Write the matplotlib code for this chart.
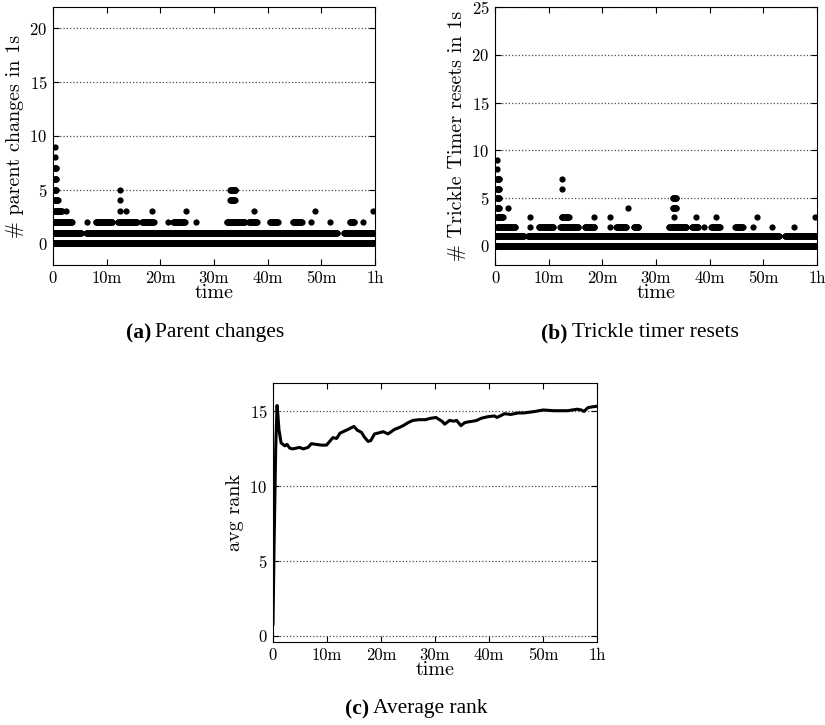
import numpy as np
import matplotlib
matplotlib.use('Agg')
from matplotlib import pyplot as plt

plt.rcParams['font.family'] = ['cmr10', 'DejaVu Serif']
plt.rcParams['axes.formatter.use_mathtext'] = True

# time axis (seconds) and its labels
time_ticks = [0, 600, 1200, 1800, 2400, 3000, 3600]
time_labels = ['0', '10m', '20m', '30m', '40m', '50m', '1h']

# per-second counts, stored as runs (start min, end min) for each count level
parent_levels = [0, 1, 2, 3, 4, 5, 6, 7, 8, 9]
parent_runs = [
    [(0.0, 60.0)],
    [(0.2, 5.3), (6.2, 53.0), (54.2, 60.0)],
    [(0.2, 3.6), (6.3, 6.3), (8.0, 11.0), (12.1, 15.6), (16.6, 18.8), (21.4, 21.4),
     (22.4, 24.6), (26.6, 26.6), (32.4, 35.8), (36.5, 38.0), (40.4, 41.9),
     (44.7, 46.4), (48.0, 48.0), (51.6, 51.6), (55.3, 56.2), (57.7, 57.7)],
    [(0.3, 1.7), (2.4, 2.4), (12.4, 12.4), (13.7, 13.7), (18.5, 18.5), (24.8, 24.8),
     (37.4, 37.4), (48.8, 48.8), (59.7, 59.7)],
    [(0.3, 0.9), (12.4, 12.4), (33.0, 33.9)],
    [(0.3, 0.7), (12.4, 12.4), (33.0, 34.0)],
    [(0.3, 0.7)],
    [(0.3, 0.7)],
    [(0.3, 0.3)],
    [(0.3, 0.3)],
]

trickle_levels = [0, 1, 2, 3, 4, 5, 6, 7, 8, 9]
trickle_runs = [
    [(0.0, 60.0)],
    [(0.2, 5.4), (6.1, 53.0), (54.0, 60.0)],
    [(0.3, 3.8), (6.5, 6.5), (8.2, 10.9), (12.2, 15.6), (16.7, 18.6), (21.5, 21.5),
     (22.6, 24.5), (25.9, 26.8), (32.4, 35.7), (36.7, 37.9), (39.0, 39.0),
     (40.3, 41.9), (44.8, 46.2), (48.0, 48.0), (51.7, 51.7), (55.7, 55.7)],
    [(0.3, 1.5), (6.5, 6.5), (12.4, 13.8), (18.5, 18.5), (21.5, 21.5), (33.4, 33.4),
     (37.4, 37.4), (41.1, 41.1), (48.8, 48.8), (59.6, 59.6)],
    [(0.3, 0.8), (2.4, 2.4), (24.8, 24.8), (33.1, 33.8)],
    [(0.3, 0.8), (33.1, 33.8)],
    [(0.3, 0.8), (12.5, 12.5)],
    [(0.3, 0.8), (12.5, 12.5)],
    [(0.4, 0.4)],
    [(0.4, 0.4)],
]

# average rank over the run
rank_minutes = [0.0, 0.2, 0.5, 0.75, 0.9, 1.1, 1.5, 2.2, 2.6, 3.1, 3.6, 4.3, 4.9, 5.6,
                6.5, 7.1, 8.0, 9.0, 9.9, 10.5, 11.1, 11.8, 12.4, 13.3, 13.9, 15.0,
                15.6, 16.4, 16.9, 17.6, 18.1, 18.8, 19.4, 20.4, 21.3, 22.5, 23.2,
                24.1, 25.0, 25.9, 27.0, 28.2, 29.3, 30.2, 30.6, 31.3, 31.8, 32.7,
                33.5, 34.0, 34.8, 35.5, 36.1, 37.0, 37.7, 38.6, 39.8, 41.0, 41.5,
                42.9, 44.0, 45.4, 46.5, 47.5, 48.5, 50.0, 52.0, 54.6, 56.3, 57.1,
                57.6, 58.3, 59.0, 60.0]
rank_values = [0.8, 6.0, 12.5, 15.4, 14.8, 13.8, 12.9, 12.7, 12.8, 12.55, 12.5, 12.55,
               12.6, 12.5, 12.6, 12.85, 12.8, 12.75, 12.75, 13.0, 13.25, 13.2, 13.55,
               13.7, 13.8, 14.0, 13.75, 13.6, 13.3, 13.0, 13.05, 13.5, 13.55, 13.65,
               13.5, 13.8, 13.9, 14.05, 14.25, 14.4, 14.45, 14.45, 14.55, 14.6, 14.5,
               14.35, 14.15, 14.4, 14.35, 14.4, 14.05, 14.25, 14.3, 14.35, 14.4, 14.55,
               14.65, 14.7, 14.6, 14.85, 14.8, 14.9, 14.9, 14.95, 15.0, 15.1, 15.05,
               15.05, 15.15, 15.1, 15.0, 15.25, 15.3, 15.35]


def expand(runs, step=5):
    # turn (start, end) minute runs into per-sample seconds
    pts = [np.arange(a * 60, b * 60 + 1, step) for a, b in runs]
    return np.concatenate(pts)


def style_axes(ax, ylim, yticks):
    ax.set_xlim(0, 3600)
    ax.set_ylim(*ylim)
    ax.set_xticks(time_ticks)
    ax.set_xticklabels(time_labels)
    ax.set_yticks(yticks)
    ax.tick_params(direction='in', top=True, right=True, labelsize=12, length=4, pad=4)
    ax.yaxis.grid(True, linestyle=':', color='0.3', linewidth=0.9)
    ax.set_axisbelow(True)
    ax.set_xlabel('time', fontsize=14.5, labelpad=-1)


fig = plt.figure(figsize=(8.25, 7.25), dpi=100)

ax_a = fig.add_axes([0.0642, 0.6345, 0.3903, 0.3559])
for lvl, runs in zip(parent_levels, parent_runs):
    t = expand(runs)
    ax_a.plot(t, np.full(len(t), lvl), 'o', color='black', markersize=4.5,
              markeredgewidth=0)
style_axes(ax_a, (-2, 22), [0, 5, 10, 15, 20])
ax_a.set_ylabel('# parent changes in 1s', fontsize=14.5, labelpad=4)

ax_b = fig.add_axes([0.6, 0.6345, 0.3903, 0.3559])
for lvl, runs in zip(trickle_levels, trickle_runs):
    t = expand(runs)
    ax_b.plot(t, np.full(len(t), lvl), 'o', color='black', markersize=4.5,
              markeredgewidth=0)
style_axes(ax_b, (-2, 25), [0, 5, 10, 15, 20, 25])
ax_b.set_ylabel('# Trickle Timer resets in 1s', fontsize=14.5, labelpad=4)

ax_c = fig.add_axes([0.3309, 0.1145, 0.3927, 0.3572])
ax_c.plot(np.array(rank_minutes) * 60, rank_values, color='black', linewidth=2.2)
style_axes(ax_c, (-0.4, 16.9), [0, 5, 10, 15])
ax_c.set_ylabel('avg rank', fontsize=14.5, labelpad=4)

# sub-captions
cap = dict(fontsize=15.5, family='Liberation Serif', va='center')
fig.text(151 / 825, 1 - 333 / 725, '(a)', ha='right', weight='bold', **cap)
fig.text(155 / 825, 1 - 333 / 725, 'Parent changes', ha='left', **cap)
fig.text(568 / 825, 1 - 333 / 725, '(b)', ha='right', weight='bold', **cap)
fig.text(572 / 825, 1 - 333 / 725, 'Trickle timer resets', ha='left', **cap)
fig.text(369 / 825, 1 - 709 / 725, '(c)', ha='right', weight='bold', **cap)
fig.text(373 / 825, 1 - 709 / 725, 'Average rank', ha='left', **cap)

fig.savefig('out.png', dpi=100)
